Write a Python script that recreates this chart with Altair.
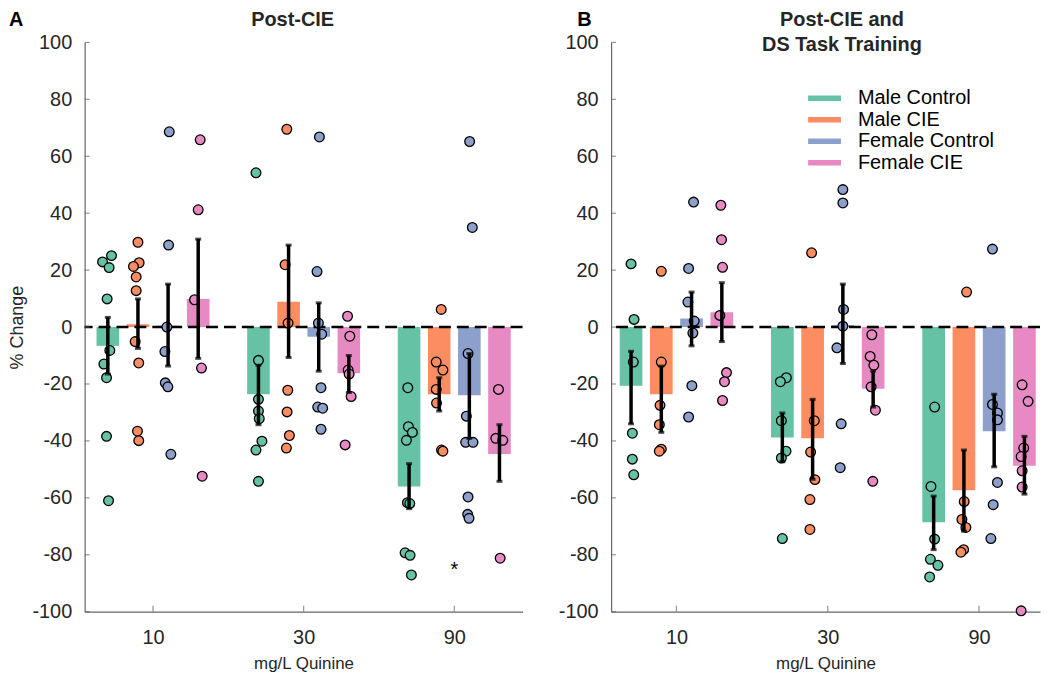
import altair as alt
import pandas as pd

FONT = "Liberation Sans"
groups = ["Male Control", "Male CIE", "Female Control", "Female CIE"]
colors = ["#66c2a5", "#fc8d62", "#8da0cb", "#e78ac3"]
doses = ["10", "30", "90"]
y_ticks = list(range(-100, 101, 20))

# ---------------- Panel A (Post-CIE): individual points per dose, per group
A_pts_10 = [[25.1, 22.9, 20.9, 9.9, -8.2, -13.0, -17.8, -38.4, -61.0],
            [29.8, 22.6, 21.3, 17.6, 12.8, -5.1, -12.6, -36.6, -39.9],
            [68.6, 28.8, 0.0, -8.6, -19.6, -21.0, -44.7],
            [65.8, 41.2, 9.6, -14.4, -52.4]]
A_pts_30 = [[54.2, -11.7, -25.4, -29.5, -32.2, -40.1, -43.2, -54.2],
            [69.5, 21.9, 1.4, -22.2, -29.8, -38.1, -42.5],
            [66.8, 19.5, 1.4, -2.5, -21.3, -28.1, -28.5, -35.9],
            [3.8, -3.2, -15.1, -16.5, -24.4, -41.4]]
A_pts_90 = [[-21.3, -35.0, -37.0, -39.8, -61.7, -62.0, -79.3, -80.2, -87.1],
            [6.2, -12.3, -15.1, -21.9, -26.7, -43.2, -43.6],
            [65.2, 35.0, -9.3, -31.3, -40.5, -40.5, -59.7, -65.8, -67.2],
            [-21.9, -39.1, -39.8, -81.2]]
# horizontal jitter of each point (px)
A_jit_10 = [[3.7, -5.3, 1.3, -0.7, 2, -4, -1.3, -1.3, 0.7],
            [0, 1.2, -4.5, -1.8, -1.8, -2.8, 0.8, -0.5, 0.8],
            [1.2, 0.5, -1.2, -3.2, -2.8, -0.2, 2.8],
            [2, 0, -3.7, 3.3, 4]]
A_jit_30 = [[-2.5, 0, 0, 0, 0.8, 3.5, -2.5, 0],
            [-1.8, -3.5, -0.5, -0.8, -1.5, 0.8, -2.2],
            [0.7, -1.7, -0.3, 3, 2.3, -1, 4, 2.3],
            [-1.3, 1, -0.7, 0.3, 2.3, -3.7]]
A_jit_90 = [[-1.3, -0.7, 3.3, -2.7, -1.7, 0.7, -4, 1, 2.3],
            [2, -3, 3.7, -3, -2.7, 2.3, 3.7],
            [0.3, 3, -1.3, -3, -3.7, 3.7, -1.3, -1.7, -0.3],
            [-1, -3.7, 3.3, 0.7]]
A_means = [[-6.6, 1.0, 0.5, 9.9], [-23.6, 8.9, -3.4, -16.2], [-56.0, -23.6, -24.0, -44.6]]
A_lo = [[-16.5, -7.5, -13.7, -11.0], [-34.3, -10.7, -15.5, -23.0], [-63.8, -29.5, -39.1, -54.2]]
A_hi = [[3.4, 9.9, 15.1, 30.9], [-13.4, 28.8, 8.5, -10.0], [-48.0, -17.8, -9.3, -34.3]]
A_star = {"dose": 3, "value": -83.7, "t": "*"}

# ---------------- Panel B (Post-CIE and DS Task Training)
B_pts_10 = [[22.2, 2.7, -12.3, -37.3, -46.4, -51.9],
            [19.6, -12.3, -27.5, -34.3, -42.9, -43.6],
            [43.9, 20.6, 8.8, 2.1, -2.1, -20.6, -31.6],
            [42.8, 30.7, 21.0, 4.1, -16.0, -19.2, -25.8]]
B_pts_30 = [[-17.8, -19.2, -32.9, -43.6, -46.0, -74.3],
            [26.1, -32.9, -43.9, -53.6, -60.6, -71.1],
            [48.3, 43.6, 6.2, 0.3, -7.3, -34.0, -49.4],
            [-2.7, -10.3, -13.4, -21.0, -29.2, -54.2]]
B_pts_90 = [[-28.1, -56.0, -74.5, -81.6, -83.7, -87.8],
            [12.3, -61.3, -67.6, -70.4, -78.2, -79.1],
            [27.4, -27.2, -30.2, -32.6, -54.6, -62.4, -74.3],
            [-20.3, -26.1, -42.5, -45.5, -50.5, -56.2, -99.7]]
B_jit_10 = [[0, 3, 2.3, 1.3, 1.3, 2.7],
            [0, 0, -1.3, -2, 0, -2],
            [2, -3, -3.7, 2.7, 1.3, 0.3, -3],
            [-1, -0.3, 0.7, -2, 4.7, 2.7, 0.7]]
B_jit_30 = [[4, -2, -1, 3.7, -1, 0],
            [-1, 1.7, -2, 2.3, -2.7, -2.7],
            [0, 0, 0.7, 0, -6, -1.7, -2.7],
            [-1.3, -3, 0.7, -2, 2.3, -0.3]]
B_jit_90 = [[1, -2.7, 1, -3.3, 4.3, -4],
            [2.7, 0.3, -2, 2, -0.3, -3],
            [-1.7, -1.7, 3.3, 3.3, 3.3, -1, -3.3],
            [-2.3, 3.7, -0.7, -3.3, -2.3, -2.3, -3.3]]
B_means = [[-20.6, -23.6, 3.0, 5.2], [-38.8, -39.1, 0.7, -21.7], [-68.6, -57.3, -36.6, -48.7]]
B_lo = [[-34.0, -37.0, -6.6, -5.1], [-47.3, -53.5, -12.8, -28.1], [-78.2, -71.7, -49.1, -58.7]]
B_hi = [[-8.5, -13.7, 12.3, 15.6], [-30.2, -25.4, 15.1, -15.4], [-59.4, -43.2, -23.6, -38.4]]

# ---------------- layout (not data)
offsets = [-0.3, -0.1, 0.1, 0.3]
bar_half = 0.075
TXT = "#262626"
AX = "#666666"
H = 572


def make_panel(pts, jits, means, los, his, xdom, width, title_text, title_x,
               letter, letter_x, ytitle, star=None, legend=False):
    ppu = width / (xdom[1] - xdom[0])
    rows = []
    for d in range(3):
        for g in range(4):
            for v, j in zip(pts[d][g], jits[d][g]):
                rows.append({"x": d + 1 + offsets[g] + j / ppu, "value": v, "group": groups[g]})
    pts_df = pd.DataFrame(rows)
    brows = []
    for d in range(3):
        for g in range(4):
            c = d + 1 + offsets[g]
            brows.append({"xc": c, "x1": c - bar_half, "x2": c + bar_half, "zero": 0.0,
                          "mean": means[d][g], "lo": los[d][g], "hi": his[d][g],
                          "group": groups[g]})
    bar_df = pd.DataFrame(brows)

    label_expr = (f"datum.value == 1 ? '{doses[0]}' : "
                  f"(datum.value == 2 ? '{doses[1]}' : '{doses[2]}')")
    xscale = alt.Scale(domain=xdom, nice=False, zero=False)
    yscale = alt.Scale(domain=[-100, 100], nice=False, zero=False)
    xaxis = alt.Axis(values=[1, 2, 3], labelExpr=label_expr, title="mg/L Quinine",
                     ticks=False, grid=False, domainColor=AX, domainWidth=1.2,
                     labelFont=FONT, labelFontSize=20, labelColor=TXT, labelPadding=16,
                     titleFont=FONT, titleFontSize=17, titleFontWeight="normal",
                     titleColor=TXT, titlePadding=8, labelOverlap=False)
    yargs = dict(values=y_ticks, ticks=False, grid=False, domainColor=AX, domainWidth=1.2,
                 labelFont=FONT, labelFontSize=20, labelColor=TXT, labelPadding=13,
                 labelOverlap=False,
                 labelExpr="replace(datum.label, '\u2212', '-')")
    if ytitle:
        yaxis = alt.Axis(title=ytitle, titleFont=FONT, titleFontSize=18,
                         titleFontWeight="normal", titleColor=TXT,
                         titleX=-58.3, titleY=H / 2, **yargs)
    else:
        yaxis = alt.Axis(title=None, **yargs)

    def X(f):
        return alt.X(f"{f}:Q", scale=xscale, axis=xaxis)

    def Y(f):
        return alt.Y(f"{f}:Q", scale=yscale, axis=yaxis)

    color = alt.Color("group:N", scale=alt.Scale(domain=groups, range=colors), legend=None)

    bars = alt.Chart(bar_df).mark_rect().encode(
        x=X("x1"), x2=alt.X2("x2"), y=Y("mean"), y2=alt.Y2("zero"), color=color)
    zero_df = pd.DataFrame({"zero": [0.0]})
    zline = alt.Chart(zero_df).mark_rule(color="black", strokeWidth=2.5,
                                         strokeDash=[12, 6]).encode(y=Y("zero"))
    points = alt.Chart(pts_df).mark_circle(size=95, opacity=1, stroke="black",
                                           strokeWidth=1.3).encode(
        x=X("x"), y=Y("value"), color=color)
    err = alt.Chart(bar_df).mark_rule(color="black", strokeWidth=3.5).encode(
        x=X("xc"), y=Y("lo"), y2=alt.Y2("hi"))
    cap_lo = alt.Chart(bar_df).mark_tick(color="black", orient="horizontal", size=6,
                                         thickness=3).encode(x=X("xc"), y=Y("lo"))
    cap_hi = alt.Chart(bar_df).mark_tick(color="black", orient="horizontal", size=6,
                                         thickness=3).encode(x=X("xc"), y=Y("hi"))
    yt_df = pd.DataFrame({"yt": y_ticks, "xmin": [xdom[0]] * len(y_ticks)})
    yticks = alt.Chart(yt_df).mark_tick(color=AX, orient="horizontal", size=5,
                                        thickness=1.2, xOffset=2.5).encode(
        x=X("xmin"), y=Y("yt"))
    xt_df = pd.DataFrame({"xt": [1, 2, 3], "ymin": [-100.0] * 3})
    xticks = alt.Chart(xt_df).mark_tick(color=AX, orient="vertical", size=6,
                                        thickness=1.2, yOffset=-3).encode(
        x=X("xt"), y=Y("ymin"))
    title_df = pd.DataFrame({"t": [title_text]})
    title = alt.Chart(title_df).mark_text(
        font=FONT, fontSize=20, fontWeight="bold", color=TXT, align="center",
        baseline="top", lineBreak="\n", lineHeight=25.5).encode(
        x=alt.value(title_x), y=alt.value(-32.7), text="t:N")
    letter_df = pd.DataFrame({"t": [letter]})
    let = alt.Chart(letter_df).mark_text(
        font=FONT, fontSize=20, fontWeight="bold", color="black", align="left",
        baseline="top").encode(x=alt.value(letter_x), y=alt.value(-32.7), text="t:N")

    layers = [bars, zline, points, err, cap_lo, cap_hi, yticks, xticks, title, let]
    if star is not None:
        star_df = pd.DataFrame([star])
        layers.append(alt.Chart(star_df).mark_text(
            font=FONT, fontSize=20, color="black", baseline="middle", dy=5).encode(
            x=X("dose"), y=Y("value"), text="t:N"))
    main = alt.layer(*layers)

    if legend:
        leg_df = pd.DataFrame({"group": groups})
        leg_y = alt.Y("group:N", sort=groups,
                      scale=alt.Scale(type="point", domain=groups, range=[56, 121], padding=0),
                      axis=None)
        sw = alt.Chart(leg_df).mark_rule(strokeWidth=5.5).encode(
            x=alt.value(198), x2=alt.value(231), y=leg_y, color=color)
        tx = alt.Chart(leg_df).mark_text(font=FONT, fontSize=20, color="black",
                                         align="left", baseline="middle").encode(
            x=alt.value(248), y=leg_y, text="group:N")
        main = alt.layer(main, alt.layer(sw, tx)).resolve_scale(y="independent")
    return main.properties(width=width, height=H)


A_pts = [A_pts_10, A_pts_30, A_pts_90]
A_jit = [A_jit_10, A_jit_30, A_jit_90]
B_pts = [B_pts_10, B_pts_30, B_pts_90]
B_jit = [B_jit_10, B_jit_30, B_jit_90]

panelA = make_panel(A_pts, A_jit, A_means, A_lo, A_hi, [0.546, 3.453], 440,
                    "Post-CIE", 209, "A", -76, "% Change", star=A_star)
panelB = make_panel(B_pts, B_jit, B_means, B_lo, B_hi, [0.568, 3.403], 431,
                    "Post-CIE and\nDS Task Training", 232, "B", -34, None, legend=True)

chart = alt.hconcat(panelA, panelB, spacing=33).properties(
    padding={"left": 0, "top": 0, "right": 0, "bottom": 0}
).configure_view(strokeWidth=0)

chart.save("out.html", embed_options={"renderer": "svg", "actions": False})
